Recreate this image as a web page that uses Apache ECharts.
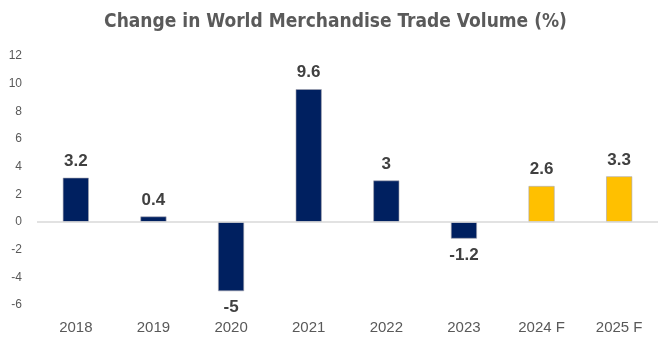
<!DOCTYPE html>
<html><head><meta charset="utf-8">
<script src="https://cdn.jsdelivr.net/npm/echarts@6/dist/echarts.min.js"></script>
<style>html,body{margin:0;padding:0;background:#fff}#c{width:671px;height:347px}</style>
</head><body><div id="c"></div>
<script>
const categories = ['2018','2019','2020','2021','2022','2023','2024 F','2025 F'];
const values = [3.2, 0.4, -5, 9.6, 3, -1.2, 2.6, 3.3];
const isForecast = [false,false,false,false,false,false,true,true];
const yTicks = [-6,-4,-2,0,2,4,6,8,10,12];

const chart = echarts.init(document.getElementById('c'));
chart.setOption({
  animation:false,
  title:{text:'Change in World Merchandise Trade Volume (%)',left:'center',top:8,
    textStyle:{fontFamily:'DejaVu Sans Condensed, Arial',fontSize:19,fontWeight:'bold',color:'#5a5a5a'}},
  grid:{left:37,right:13,top:56,bottom:42},
  xAxis:{type:'category',data:categories,axisTick:{show:false},
    axisLine:{show:false},
    axisLabel:{color:'#595959',fontSize:15,fontFamily:'Arial, Liberation Sans',margin:15}},
  yAxis:{type:'value',min:yTicks[0],max:yTicks[yTicks.length-1],interval:2,
    splitLine:{show:false},axisLine:{show:false},axisTick:{show:false},
    axisLabel:{color:'#595959',fontSize:12,fontFamily:'Arial, Liberation Sans',margin:15,align:'right'}},
  series:[{
    type:'bar',barWidth:26,
    data:values.map((v,i)=>({value:v,itemStyle:{color:isForecast[i]?'#FFC000':'#002060'},
      label:{position:v<0?'bottom':'top'}})),
    itemStyle:{borderColor:'#a6a6b0',borderWidth:0.6},
    label:{show:true,fontSize:17,fontWeight:'bold',color:'#404040',fontFamily:'Arial, Liberation Sans',distance:8},
    markLine:{silent:true,symbol:'none',label:{show:false},
      lineStyle:{color:'#d9d9d9',type:'solid',width:1.5},data:[{yAxis:0}]}
  }]
});
</script></body></html>
